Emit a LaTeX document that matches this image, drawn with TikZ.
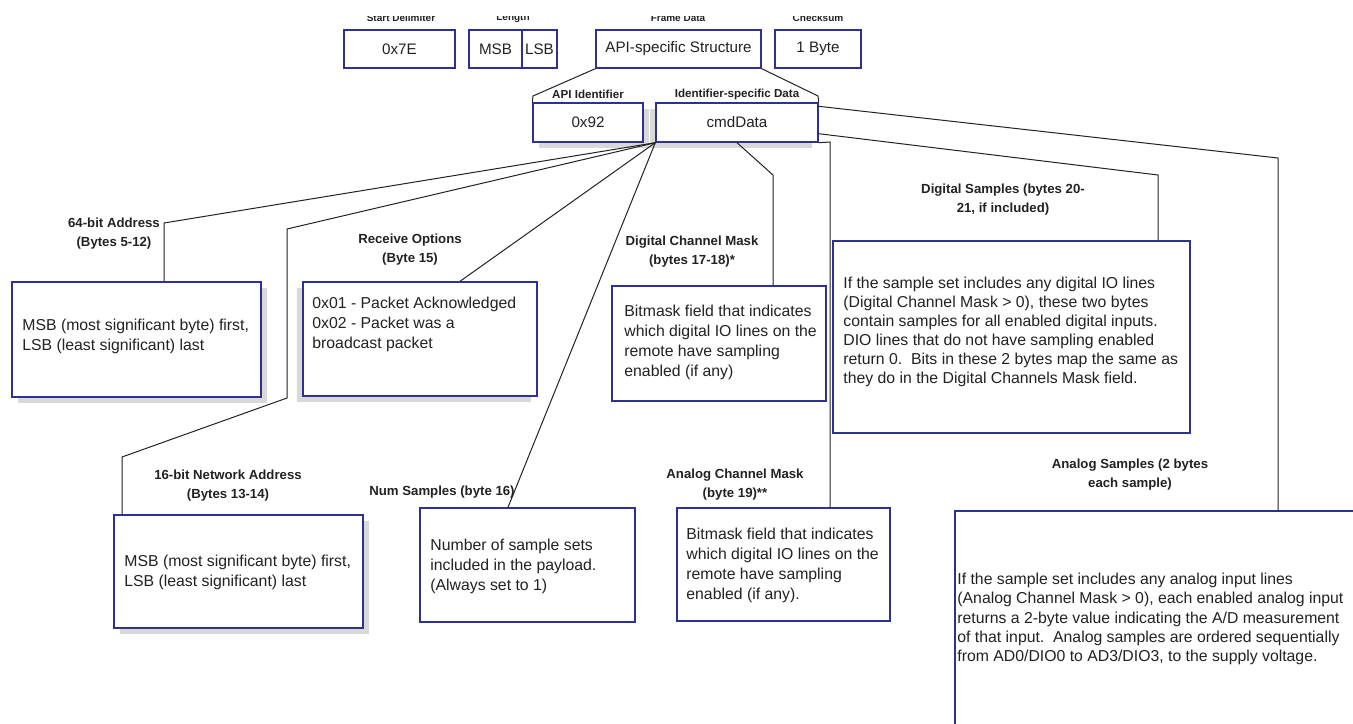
\documentclass[tikz,border=0pt]{standalone}
\usepackage{fontspec}
\setmainfont{Liberation Sans}
\usetikzlibrary{fit,shadows}
\definecolor{navy}{HTML}{2E3192}
\definecolor{shade}{HTML}{D9D9D9}
\definecolor{ink}{HTML}{222222}
\begin{document}
\begin{tikzpicture}[x=0.5pt,y=-0.5pt,
  box/.style={draw=navy, line width=0.7pt, fill=white, inner sep=0pt},
  sbox/.style={box, drop shadow={shadow xshift=2.8pt, shadow yshift=-2.8pt, fill=shade, opacity=1}},
  lsbox/.style={box, drop shadow={shadow xshift=-2.8pt, shadow yshift=-2.8pt, fill=shade, opacity=1}},
  conn/.style={draw=ink, line width=0.5pt},
  lbl/.style={font=\fontsize{6.6pt}{9.5pt}\selectfont\bfseries, align=center, inner sep=0pt, text=ink},
  toplbl/.style={font=\fontsize{5pt}{6pt}\selectfont\bfseries, inner sep=0pt, text=ink},
  body/.style={font=\fontsize{7.9pt}{10pt}\selectfont, align=left, inner sep=0pt, anchor=west, text=ink},
  cell/.style={font=\fontsize{7.6pt}{9pt}\selectfont, text=ink, inner sep=0pt}
]
\useasboundingbox (0,0) rectangle (1353,723);

% top row
\node[box,fit={(344,30)(455,68)}] (sd) {};
\node[cell] (sdt) at (sd.center) {0x7E};
\node[box,fit={(469,30)(522,68)}] (msb) {};
\node[cell] (msbt) at (msb.center) {MSB};
\node[box,fit={(522,30)(557,68)}] (lsb) {};
\node[cell] (lsbt) at (lsb.center) {LSB};
\node[box,fit={(596,30)(761,68)}] (fd) {};
\node[cell] (fdt) at (fd.center) {API-specific Structure};
\node[box,fit={(775,30)(861,68)}] (cs) {};
\node[cell] (cst) at (cs.center) {1 Byte};
\begin{scope}
\clip (300,16) rectangle (900,29);
\node[toplbl] (lsd) at (401,18) {Start Delimiter};
\node[toplbl] (llen) at (513,18) {Length};
\node[toplbl] (lfd) at (678,18) {Frame Data};
\node[toplbl] (lcs) at (818,18) {Checksum};
\end{scope}

% second row
\node[sbox,fit={(533,103)(643,142)}] (api) {};
\node[cell] (apit) at (api.center) {0x92};
\node[lsbox,fit={(656,103)(818,142)}] (cmd) {};
\node[cell] (cmdt) at (cmd.center) {cmdData};
\node[lbl,font=\fontsize{5.8pt}{7pt}\selectfont\bfseries] (lapi) at (588,94) {API Identifier};
\node[lbl,font=\fontsize{5.8pt}{7pt}\selectfont\bfseries] (lcmd) at (737,94) {Identifier-specific Data};
\draw[conn] (fd.south west) -- (533,96) -- (api.north west);
\draw[conn] (fd.south east) -- (818,96) -- (cmd.north east);

% 64-bit address
\node[sbox,fit={(12,282)(261,397)}] (b64) {};
\node[body] (t64) at (22,336) {MSB (most significant byte) first,\\LSB (least significant) last};
\node[lbl] (l64) at (114,234) {64-bit Address\\(Bytes 5-12)};
\coordinate (c64) at (164,223);
\draw[conn] (cmd.south west) -- (c64) -- (b64.north -| c64);

% 16-bit network address
\node[sbox,fit={(114,515)(363,628)}] (b16) {};
\node[body] (t16) at (124,572) {MSB (most significant byte) first,\\LSB (least significant) last};
\node[lbl] (l16) at (228,486) {16-bit Network Address\\(Bytes 13-14)};
\coordinate (n1) at (287,229);
\coordinate (n2) at (287,398);
\coordinate (n3) at (122,457);
\draw[conn] (cmd.south west) -- (n1) -- (n2) -- (n3) -- (b16.north -| n3);

% receive options
\node[lsbox,fit={(303,282)(537,396)}] (bro) {};
\node[body,anchor=north west] (tro) at (312,297) {0x01 - Packet Acknowledged\\0x02 - Packet was a\\broadcast packet};
\node[lbl] (lro) at (410,250) {Receive Options\\(Byte 15)};
\coordinate (ro) at (460,0);
\draw[conn] (cmd.south west) -- (bro.north -| ro);

% num samples
\node[box,fit={(420,508)(635,622)}] (bns) {};
\node[body] (tns) at (430,566) {Number of sample sets\\included in the payload.\\(Always set to 1)};
\node[lbl] (lns) at (442,492) {Num Samples (byte 16)};
\coordinate (ns) at (508,0);
\draw[conn] (cmd.south west) -- (bns.north -| ns);

% digital channel mask
\node[box,fit={(612,286)(826,401)}] (bdc) {};
\node[body] (tdc) at (624,342) {Bitmask field that indicates\\which digital IO lines on the\\remote have sampling\\enabled (if any)};
\node[lbl] (ldc) at (692,252) {Digital Channel Mask\\(bytes 17-18)*};
\coordinate (dc) at (773,175);
\draw[conn] (cmd.south) -- (dc) -- (bdc.north -| dc);

% analog channel mask
\node[box,fit={(677,508)(890,621)}] (bac) {};
\node[body] (tac) at (686,565) {Bitmask field that indicates\\which digital IO lines on the\\remote have sampling\\enabled (if any).};
\node[lbl] (lac) at (735,485) {Analog Channel Mask\\(byte 19)**};
\coordinate (ac) at (830,142);
\draw[conn] (cmd.south east) -- (ac) -- (bac.north -| ac);

% digital samples
\node[box,fit={(833,241)(1190,433)}] (bds) {};
\node[body,font=\fontsize{7.9pt}{9.5pt}\selectfont] (tds) at (843,332) {If the sample set includes any digital IO lines\\(Digital Channel Mask > 0), these two bytes\\contain samples for all enabled digital inputs.\\DIO lines that do not have sampling enabled\\return 0.\ \ Bits in these 2 bytes map the same as\\they do in the Digital Channels Mask field.};
\node[lbl] (lds) at (1003,200) {Digital Samples (bytes 20-\\21, if included)};
\coordinate (ds) at (1158,175);
\draw[conn] ([yshift=4.5pt]cmd.south east) -- (ds) -- (bds.north -| ds);

% analog samples
\node[box,fit={(955,511)(1370,740)}] (bas) {};
\node[body,font=\fontsize{7.9pt}{9.6pt}\selectfont] (tas) at (957,619) {If the sample set includes any analog input lines\\(Analog Channel Mask > 0), each enabled analog input\\returns a 2-byte value indicating the A/D measurement\\of that input.\ \ Analog samples are ordered sequentially\\from AD0/DIO0 to AD3/DIO3, to the supply voltage.};
\node[lbl] (las) at (1130,475) {Analog Samples (2 bytes\\each sample)};
\coordinate (as) at (1278,158);
\draw[conn] ([yshift=-2pt]cmd.north east) -- (as) -- (bas.north -| as);
\end{tikzpicture}
\end{document}
